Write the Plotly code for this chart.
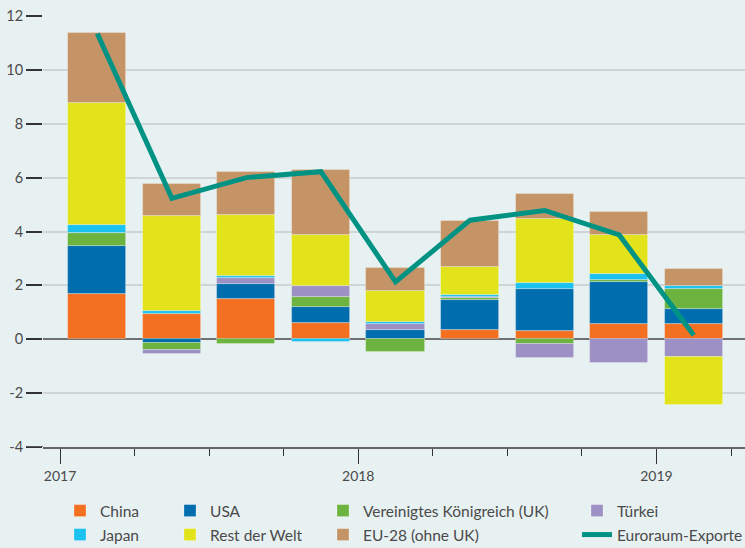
import plotly.graph_objects as go

quarters = ["2017 Q1", "2017 Q2", "2017 Q3", "2017 Q4", "2018 Q1",
            "2018 Q2", "2018 Q3", "2018 Q4", "2019 Q1"]
x_pos = [0.5, 1.5, 2.5, 3.5, 4.5, 5.5, 6.5, 7.5, 8.5]

china = [1.67, 0.95, 1.50, 0.61, 0.02, 0.36, 0.31, 0.58, 0.58]
usa = [1.80, -0.14, 0.56, 0.59, 0.31, 1.09, 1.55, 1.55, 0.54]
uk = [0.46, -0.27, -0.19, 0.37, -0.49, 0.07, -0.19, 0.07, 0.73]
tuerkei = [0.03, -0.12, 0.23, 0.39, 0.25, 0.04, -0.51, -0.87, -0.66]
japan = [0.29, 0.09, 0.06, -0.10, 0.06, 0.10, 0.22, 0.23, 0.11]
rest = [4.53, 3.55, 2.27, 1.91, 1.14, 1.01, 2.39, 1.44, -1.77]
eu28 = [2.58, 1.19, 1.58, 2.41, 0.85, 1.71, 0.92, 0.84, 0.63]
euroraum = [11.35, 5.23, 6.00, 6.22, 2.13, 4.42, 4.78, 3.87, 0.15]

year_ticks = [0, 4, 8]
year_labels = ["2017", "2018", "2019"]
y_ticks = [-4, -2, 0, 2, 4, 6, 8, 10, 12]
y_labels = ["-4", "-2", "0", "2", "4", "6", "8", "10", "12"]

series = [
    ("China", china, "#f37021", "legend"),
    ("USA", usa, "#006eae", "legend2"),
    ("Vereinigtes Königreich (UK)", uk, "#6cb43f", "legend3"),
    ("Türkei", tuerkei, "#9d90c4", "legend4"),
    ("Japan", japan, "#1bc1ef", "legend5"),
    ("Rest der Welt", rest, "#e2e31a", "legend6"),
    ("EU-28 (ohne UK)", eu28, "#c49467", "legend7"),
]

BG = "#e8f1f2"
TXT = "#4a4a4a"
FONT = "Lato, 'Open Sans', sans-serif"

fig = go.Figure()
for name, vals, col, lg in series:
    fig.add_trace(go.Bar(
        x=x_pos, y=vals, name=name, width=0.78,
        marker=dict(color=col, line=dict(color="rgba(255,255,255,0.35)", width=0.8)),
        legend=lg, customdata=quarters,
        hovertemplate="%{customdata}: %{y}<extra>" + name + "</extra>",
    ))
fig.add_trace(go.Scatter(
    x=x_pos, y=euroraum, name="Euroraum-Exporte", mode="lines",
    line=dict(color="#009384", width=5), legend="legend8",
    customdata=quarters,
    hovertemplate="%{customdata}: %{y}<extra>Euroraum-Exporte</extra>",
))

# plot area in pixels: left 43, right 745, top 16, bottom 447
L, R, T, B = 43, 745, 16, 447
W, H = 745, 548
pw, ph = R - L, B - T

def px_x(p):
    return (p - L) / pw

def px_y(p):
    return (B - p) / ph

legend_cols = [60, 170, 323, 577]
legend_rows = [511, 535]
layout_legends = {}
names = ["legend", "legend2", "legend3", "legend4", "legend5", "legend6", "legend7", "legend8"]
for i, lg in enumerate(names):
    col = i % 4
    row = i // 4
    layout_legends[lg] = dict(
        x=px_x(legend_cols[col]), y=px_y(legend_rows[row]),
        xanchor="left", yanchor="middle", xref="paper", yref="paper",
        bgcolor="rgba(0,0,0,0)", borderwidth=0,
        font=dict(family=FONT, size=15.5, color=TXT),
        itemwidth=30, itemclick=False, itemdoubleclick=False,
    )

x_lo = (L - 60) / 74.56
x_hi = (R - 60) / 74.56

fig.update_layout(
    width=W, height=H,
    margin=dict(l=L, r=W - R, t=T, b=H - B, autoexpand=False),
    paper_bgcolor=BG, plot_bgcolor=BG,
    barmode="relative", bargap=0,
    font=dict(family=FONT, size=14, color=TXT),
    showlegend=True,
    xaxis=dict(
        range=[x_lo, x_hi], tickmode="array", tickvals=year_ticks, ticktext=year_labels,
        ticks="outside", ticklen=15, tickwidth=1.2, tickcolor="#333333",
        showgrid=False, zeroline=False, showline=True, linecolor="#666666", linewidth=1.5,
        minor=dict(dtick=1, tick0=0, ticks="outside", ticklen=7, tickwidth=1.2,
                   tickcolor="#333333", showgrid=False),
        tickfont=dict(family=FONT, size=14, color=TXT), fixedrange=True, automargin=False,
    ),
    yaxis=dict(
        range=[-4, 12], tickmode="array", tickvals=y_ticks, ticktext=y_labels,
        ticks="outside", ticklen=16, tickwidth=1.5, tickcolor="#333333",
        showgrid=True, gridcolor="#cfd5d7", gridwidth=1.5,
        zeroline=True, zerolinecolor="#707070", zerolinewidth=1.5,
        showline=False, tickfont=dict(family=FONT, size=14.5, color=TXT), fixedrange=True,
        automargin=False,
    ),
    **layout_legends,
)

# extend the bottom axis line under the y tick marks
fig.add_shape(type="line", xref="paper", yref="y", x0=px_x(27), x1=0, y0=-4, y1=-4,
              line=dict(color="#666666", width=1.5))

fig.write_html(
    "out.html",
    config={"displayModeBar": False},
    post_script="document.body.style.margin='0';document.body.style.background='" + BG + "';",
)
